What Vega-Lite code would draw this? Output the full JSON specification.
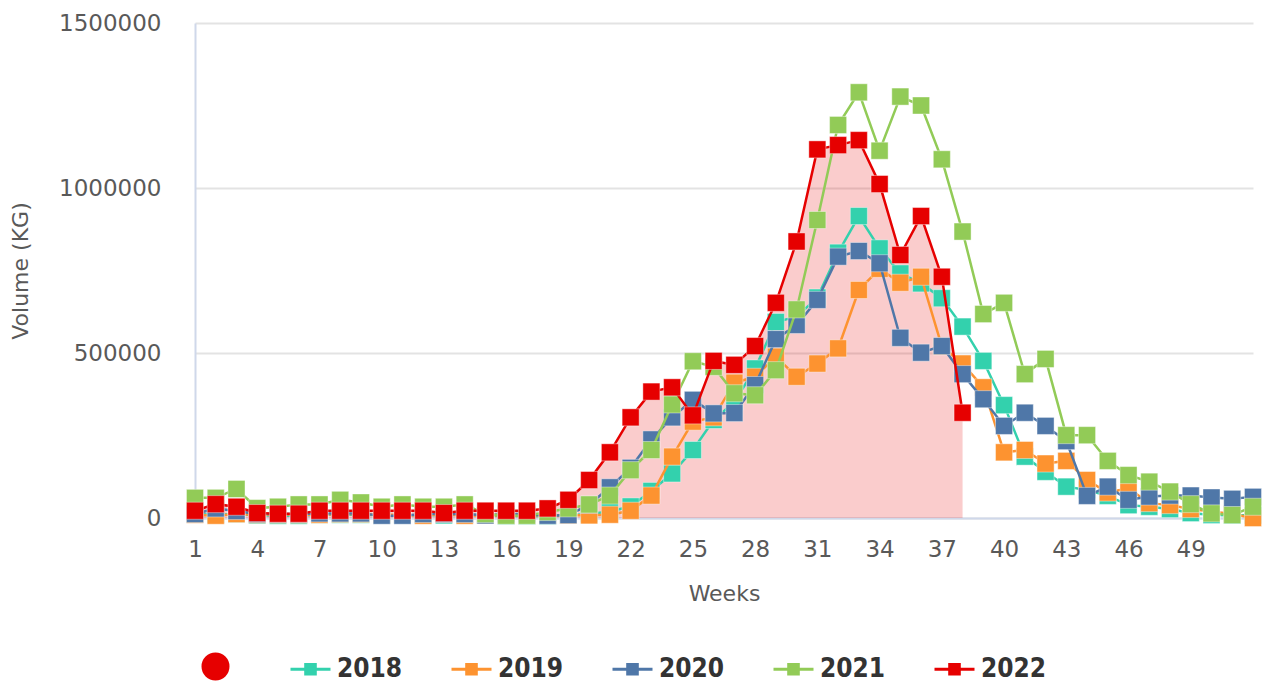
{
  "$schema": "https://vega.github.io/schema/vega-lite/v6.json",
  "width": 1058,
  "height": 495,
  "autosize": {"type": "none"},
  "padding": {"left": 195, "top": 23, "right": 10, "bottom": 166},
  "background": "white",
  "config": {
    "view": {"stroke": null},
    "font": "DejaVu Sans",
    "axis": {
      "labelFont": "DejaVu Sans",
      "titleFont": "DejaVu Sans",
      "labelFontSize": 23,
      "titleFontSize": 22,
      "labelColor": "#595959",
      "titleColor": "#595959",
      "titleFontWeight": "normal",
      "domainColor": "#cfd8ea",
      "domainWidth": 2,
      "ticks": false,
      "gridColor": "#e3e3e3",
      "gridWidth": 2
    }
  },
  "data": {
    "values": [
      {"w":1,"yr":"2018","v":12000},{"w":2,"yr":"2018","v":10000},{"w":3,"yr":"2018","v":12000},{"w":4,"yr":"2018","v":8000},{"w":5,"yr":"2018","v":7000},{"w":6,"yr":"2018","v":7000},{"w":7,"yr":"2018","v":10000},{"w":8,"yr":"2018","v":10000},{"w":9,"yr":"2018","v":10000},{"w":10,"yr":"2018","v":8000},{"w":11,"yr":"2018","v":8000},{"w":12,"yr":"2018","v":8000},{"w":13,"yr":"2018","v":8000},{"w":14,"yr":"2018","v":10000},{"w":15,"yr":"2018","v":8000},{"w":16,"yr":"2018","v":6000},{"w":17,"yr":"2018","v":6000},{"w":18,"yr":"2018","v":6000},{"w":19,"yr":"2018","v":8000},{"w":20,"yr":"2018","v":12000},{"w":21,"yr":"2018","v":20000},{"w":22,"yr":"2018","v":35000},{"w":23,"yr":"2018","v":82000},{"w":24,"yr":"2018","v":135000},{"w":25,"yr":"2018","v":206000},{"w":26,"yr":"2018","v":297000},{"w":27,"yr":"2018","v":352000},{"w":28,"yr":"2018","v":453000},{"w":29,"yr":"2018","v":594000},{"w":30,"yr":"2018","v":610000},{"w":31,"yr":"2018","v":668000},{"w":32,"yr":"2018","v":804000},{"w":33,"yr":"2018","v":915000},{"w":34,"yr":"2018","v":817000},{"w":35,"yr":"2018","v":741000},{"w":36,"yr":"2018","v":711000},{"w":37,"yr":"2018","v":666000},{"w":38,"yr":"2018","v":580000},{"w":39,"yr":"2018","v":476000},{"w":40,"yr":"2018","v":342000},{"w":41,"yr":"2018","v":186000},{"w":42,"yr":"2018","v":140000},{"w":43,"yr":"2018","v":95000},{"w":44,"yr":"2018","v":85000},{"w":45,"yr":"2018","v":67000},{"w":46,"yr":"2018","v":39000},{"w":47,"yr":"2018","v":34000},{"w":48,"yr":"2018","v":27000},{"w":49,"yr":"2018","v":15000},{"w":50,"yr":"2018","v":9000},{"w":51,"yr":"2018","v":8000},{"w":52,"yr":"2018","v":8000},
      {"w":1,"yr":"2019","v":10000},{"w":2,"yr":"2019","v":7000},{"w":3,"yr":"2019","v":12000},{"w":4,"yr":"2019","v":10000},{"w":5,"yr":"2019","v":10000},{"w":6,"yr":"2019","v":10000},{"w":7,"yr":"2019","v":10000},{"w":8,"yr":"2019","v":12000},{"w":9,"yr":"2019","v":12000},{"w":10,"yr":"2019","v":10000},{"w":11,"yr":"2019","v":10000},{"w":12,"yr":"2019","v":7000},{"w":13,"yr":"2019","v":12000},{"w":14,"yr":"2019","v":7000},{"w":15,"yr":"2019","v":8000},{"w":16,"yr":"2019","v":8000},{"w":17,"yr":"2019","v":8000},{"w":18,"yr":"2019","v":8000},{"w":19,"yr":"2019","v":8000},{"w":20,"yr":"2019","v":8000},{"w":21,"yr":"2019","v":10000},{"w":22,"yr":"2019","v":22000},{"w":23,"yr":"2019","v":68000},{"w":24,"yr":"2019","v":186000},{"w":25,"yr":"2019","v":292000},{"w":26,"yr":"2019","v":305000},{"w":27,"yr":"2019","v":410000},{"w":28,"yr":"2019","v":428000},{"w":29,"yr":"2019","v":489000},{"w":30,"yr":"2019","v":428000},{"w":31,"yr":"2019","v":468000},{"w":32,"yr":"2019","v":514000},{"w":33,"yr":"2019","v":691000},{"w":34,"yr":"2019","v":755000},{"w":35,"yr":"2019","v":713000},{"w":36,"yr":"2019","v":731000},{"w":37,"yr":"2019","v":520000},{"w":38,"yr":"2019","v":468000},{"w":39,"yr":"2019","v":396000},{"w":40,"yr":"2019","v":199000},{"w":41,"yr":"2019","v":206000},{"w":42,"yr":"2019","v":165000},{"w":43,"yr":"2019","v":173000},{"w":44,"yr":"2019","v":115000},{"w":45,"yr":"2019","v":77000},{"w":46,"yr":"2019","v":90000},{"w":47,"yr":"2019","v":45000},{"w":48,"yr":"2019","v":39000},{"w":49,"yr":"2019","v":27000},{"w":50,"yr":"2019","v":20000},{"w":51,"yr":"2019","v":12000},{"w":52,"yr":"2019","v":0},
      {"w":1,"yr":"2020","v":12000},{"w":2,"yr":"2020","v":29000},{"w":3,"yr":"2020","v":21000},{"w":4,"yr":"2020","v":12000},{"w":5,"yr":"2020","v":12000},{"w":6,"yr":"2020","v":12000},{"w":7,"yr":"2020","v":14000},{"w":8,"yr":"2020","v":14000},{"w":9,"yr":"2020","v":14000},{"w":10,"yr":"2020","v":7000},{"w":11,"yr":"2020","v":7000},{"w":12,"yr":"2020","v":12000},{"w":13,"yr":"2020","v":12000},{"w":14,"yr":"2020","v":12000},{"w":15,"yr":"2020","v":8000},{"w":16,"yr":"2020","v":12000},{"w":17,"yr":"2020","v":12000},{"w":18,"yr":"2020","v":7000},{"w":19,"yr":"2020","v":9000},{"w":20,"yr":"2020","v":40000},{"w":21,"yr":"2020","v":93000},{"w":22,"yr":"2020","v":152000},{"w":23,"yr":"2020","v":238000},{"w":24,"yr":"2020","v":305000},{"w":25,"yr":"2020","v":358000},{"w":26,"yr":"2020","v":317000},{"w":27,"yr":"2020","v":318000},{"w":28,"yr":"2020","v":403000},{"w":29,"yr":"2020","v":542000},{"w":30,"yr":"2020","v":585000},{"w":31,"yr":"2020","v":661000},{"w":32,"yr":"2020","v":792000},{"w":33,"yr":"2020","v":809000},{"w":34,"yr":"2020","v":772000},{"w":35,"yr":"2020","v":546000},{"w":36,"yr":"2020","v":501000},{"w":37,"yr":"2020","v":521000},{"w":38,"yr":"2020","v":436000},{"w":39,"yr":"2020","v":360000},{"w":40,"yr":"2020","v":279000},{"w":41,"yr":"2020","v":319000},{"w":42,"yr":"2020","v":279000},{"w":43,"yr":"2020","v":233000},{"w":44,"yr":"2020","v":67000},{"w":45,"yr":"2020","v":95000},{"w":46,"yr":"2020","v":55000},{"w":47,"yr":"2020","v":65000},{"w":48,"yr":"2020","v":68000},{"w":49,"yr":"2020","v":68000},{"w":50,"yr":"2020","v":62000},{"w":51,"yr":"2020","v":58000},{"w":52,"yr":"2020","v":64000},
      {"w":1,"yr":"2021","v":61000},{"w":2,"yr":"2021","v":61000},{"w":3,"yr":"2021","v":88000},{"w":4,"yr":"2021","v":30000},{"w":5,"yr":"2021","v":34000},{"w":6,"yr":"2021","v":41000},{"w":7,"yr":"2021","v":41000},{"w":8,"yr":"2021","v":55000},{"w":9,"yr":"2021","v":47000},{"w":10,"yr":"2021","v":34000},{"w":11,"yr":"2021","v":41000},{"w":12,"yr":"2021","v":34000},{"w":13,"yr":"2021","v":34000},{"w":14,"yr":"2021","v":41000},{"w":15,"yr":"2021","v":12000},{"w":16,"yr":"2021","v":7000},{"w":17,"yr":"2021","v":7000},{"w":18,"yr":"2021","v":18000},{"w":19,"yr":"2021","v":29000},{"w":20,"yr":"2021","v":41000},{"w":21,"yr":"2021","v":68000},{"w":22,"yr":"2021","v":145000},{"w":23,"yr":"2021","v":206000},{"w":24,"yr":"2021","v":344000},{"w":25,"yr":"2021","v":475000},{"w":26,"yr":"2021","v":458000},{"w":27,"yr":"2021","v":378000},{"w":28,"yr":"2021","v":372000},{"w":29,"yr":"2021","v":448000},{"w":30,"yr":"2021","v":632000},{"w":31,"yr":"2021","v":903000},{"w":32,"yr":"2021","v":1191000},{"w":33,"yr":"2021","v":1290000},{"w":34,"yr":"2021","v":1113000},{"w":35,"yr":"2021","v":1277000},{"w":36,"yr":"2021","v":1250000},{"w":37,"yr":"2021","v":1087000},{"w":38,"yr":"2021","v":868000},{"w":39,"yr":"2021","v":618000},{"w":40,"yr":"2021","v":652000},{"w":41,"yr":"2021","v":436000},{"w":42,"yr":"2021","v":482000},{"w":43,"yr":"2021","v":251000},{"w":44,"yr":"2021","v":251000},{"w":45,"yr":"2021","v":173000},{"w":46,"yr":"2021","v":130000},{"w":47,"yr":"2021","v":110000},{"w":48,"yr":"2021","v":80000},{"w":49,"yr":"2021","v":42000},{"w":50,"yr":"2021","v":14000},{"w":51,"yr":"2021","v":9000},{"w":52,"yr":"2021","v":34000},
      {"w":1,"yr":"2022","v":22000},{"w":2,"yr":"2022","v":42000},{"w":3,"yr":"2022","v":34000},{"w":4,"yr":"2022","v":15000},{"w":5,"yr":"2022","v":13000},{"w":6,"yr":"2022","v":13000},{"w":7,"yr":"2022","v":22000},{"w":8,"yr":"2022","v":22000},{"w":9,"yr":"2022","v":22000},{"w":10,"yr":"2022","v":22000},{"w":11,"yr":"2022","v":22000},{"w":12,"yr":"2022","v":22000},{"w":13,"yr":"2022","v":15000},{"w":14,"yr":"2022","v":22000},{"w":15,"yr":"2022","v":22000},{"w":16,"yr":"2022","v":22000},{"w":17,"yr":"2022","v":22000},{"w":18,"yr":"2022","v":29000},{"w":19,"yr":"2022","v":55000},{"w":20,"yr":"2022","v":115000},{"w":21,"yr":"2022","v":199000},{"w":22,"yr":"2022","v":305000},{"w":23,"yr":"2022","v":383000},{"w":24,"yr":"2022","v":396000},{"w":25,"yr":"2022","v":311000},{"w":26,"yr":"2022","v":476000},{"w":27,"yr":"2022","v":464000},{"w":28,"yr":"2022","v":521000},{"w":29,"yr":"2022","v":652000},{"w":30,"yr":"2022","v":838000},{"w":31,"yr":"2022","v":1117000},{"w":32,"yr":"2022","v":1130000},{"w":33,"yr":"2022","v":1145000},{"w":34,"yr":"2022","v":1012000},{"w":35,"yr":"2022","v":797000},{"w":36,"yr":"2022","v":915000},{"w":37,"yr":"2022","v":731000},{"w":38,"yr":"2022","v":319000}
    ]
  },
  "encoding": {
    "x": {
      "field": "w", "type": "quantitative", "title": "Weeks",
      "scale": {"domain": [1, 52], "nice": false, "zero": false},
      "axis": {"values": [1,4,7,10,13,16,19,22,25,28,31,34,37,40,43,46,49], "grid": false, "labelPadding": 20, "titlePadding": 22, "labelFlush": false}
    },
    "y": {
      "field": "v", "type": "quantitative", "title": "Volume (KG)",
      "scale": {"domain": [0, 1500000], "nice": false},
      "axis": {"values": [0, 500000, 1000000, 1500000], "format": "d", "grid": true, "labelPadding": 34, "titlePadding": 26}
    },
    "color": {
      "field": "yr", "type": "nominal",
      "scale": {"domain": ["a","2018","2019","2020","2021","2022"], "range": ["#e60000","#33d1ad","#fd9330","#4f77a8","#92cb57","#e60000"]},
      "legend": {
        "title": null,
        "orient": "none",
        "legendX": -1,
        "legendY": 622,
        "direction": "horizontal",
        "columns": 6,
        "columnPadding": 42,
        "labelOffset": 5,
        "padding": 0,
        "symbolSize": 1600,
        "symbolStrokeWidth": 3,
        "symbolOpacity": 1,
        "labelFont": "DejaVu Sans Condensed",
        "labelFontSize": 26,
        "labelFontWeight": "bold",
        "labelColor": "#333333",
        "labelExpr": "datum.label === 'a' ? '' : datum.label",
        "encode": {
          "symbols": {
            "update": {
              "shape": {"signal": "datum.value === 'a' ? 'M-0.625,0A0.625,0.625 0 1,0 0.625,0A0.625,0.625 0 1,0 -0.625,0Z' : 'M-1,0H1M-0.24,-0.24H0.24V0.24H-0.24Z'"},
              "stroke": {"scale": "color", "field": "value"},
              "fill": {"scale": "color", "field": "value"},
              "opacity": {"value": 1},
              "fillOpacity": {"value": 1},
              "strokeOpacity": {"value": 1}
            }
          }
        }
      }
    }
  },
  "layer": [
    {"transform": [{"filter": "datum.yr === '2022'"}], "mark": {"type": "area", "fillOpacity": 0.2}, "encoding": {"color": {"datum": "a", "type": "nominal"}}},
    {"transform": [{"filter": "datum.yr === '2018'"}], "mark": {"type": "line", "strokeWidth": 2.5}},
    {"transform": [{"filter": "datum.yr === '2018'"}], "mark": {"type": "point", "shape": "square", "filled": true, "size": 290, "opacity": 1, "stroke": "white", "strokeWidth": 1, "strokeOpacity": 0.4}},
    {"transform": [{"filter": "datum.yr === '2019'"}], "mark": {"type": "line", "strokeWidth": 2.5}},
    {"transform": [{"filter": "datum.yr === '2019'"}], "mark": {"type": "point", "shape": "square", "filled": true, "size": 290, "opacity": 1, "stroke": "white", "strokeWidth": 1, "strokeOpacity": 0.4}},
    {"transform": [{"filter": "datum.yr === '2020'"}], "mark": {"type": "line", "strokeWidth": 2.5}},
    {"transform": [{"filter": "datum.yr === '2020'"}], "mark": {"type": "point", "shape": "square", "filled": true, "size": 290, "opacity": 1, "stroke": "white", "strokeWidth": 1, "strokeOpacity": 0.4}},
    {"transform": [{"filter": "datum.yr === '2021'"}], "mark": {"type": "line", "strokeWidth": 2.5}},
    {"transform": [{"filter": "datum.yr === '2021'"}], "mark": {"type": "point", "shape": "square", "filled": true, "size": 290, "opacity": 1, "stroke": "white", "strokeWidth": 1, "strokeOpacity": 0.4}},
    {"transform": [{"filter": "datum.yr === '2022'"}], "mark": {"type": "line", "strokeWidth": 2.5}},
    {"transform": [{"filter": "datum.yr === '2022'"}], "mark": {"type": "point", "shape": "square", "filled": true, "size": 290, "opacity": 1, "stroke": "white", "strokeWidth": 1, "strokeOpacity": 0.4}}
  ]
}
